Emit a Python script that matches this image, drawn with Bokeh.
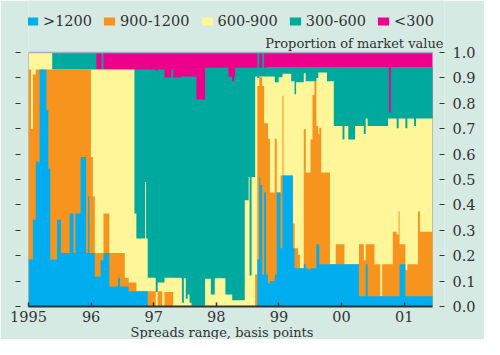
import numpy as np
from bokeh.plotting import figure
from bokeh.models import (ColumnDataSource, Legend, LegendItem, LinearAxis, FixedTicker,
                          Label, Range1d, CustomJSTickFormatter, PrintfTickFormatter, Title)
from bokeh.embed import file_html
from bokeh.resources import INLINE

# ---- data (start of each period, decimal years) ----
period_start = [
    1995.000, 1995.039, 1995.070, 1995.116, 1995.178, 1995.286, 1995.317, 1995.348, 1995.379, 1995.456,
    1995.518, 1995.657, 1995.719, 1995.750, 1995.832, 1995.920, 1995.951, 1995.971, 1995.997, 1996.028,
    1996.059, 1996.085, 1996.152, 1996.167, 1996.198, 1996.291, 1996.430, 1996.461, 1996.538, 1996.600,
    1996.692, 1996.723, 1996.862, 1996.878, 1996.904, 1997.032, 1997.063, 1997.136, 1997.172, 1997.280,
    1997.311, 1997.434, 1997.450, 1997.481, 1997.512, 1997.543, 1997.573, 1997.604, 1997.682, 1997.821,
    1997.913, 1997.975, 1998.145, 1998.192, 1998.254, 1998.284, 1998.300, 1998.454, 1998.516, 1998.532,
    1998.563, 1998.620, 1998.655, 1998.686, 1998.702, 1998.733, 1998.764, 1998.794, 1998.825, 1998.856,
    1998.934, 1998.965, 1998.995, 1999.026, 1999.057, 1999.073, 1999.196, 1999.223, 1999.250, 1999.274,
    1999.305, 1999.335, 1999.397, 1999.428, 1999.459, 1999.505, 1999.536, 1999.567, 1999.598, 1999.629,
    1999.645, 1999.675, 1999.768, 1999.815, 1999.876, 1999.907, 2000.016, 2000.046, 2000.108, 2000.216,
    2000.278, 2000.356, 2000.386, 2000.417, 2000.526, 2000.618, 2000.649, 2000.742, 2000.757, 2000.788,
    2000.819, 2000.881, 2000.912, 2000.927, 2001.020, 2001.051, 2001.159, 2001.190, 2001.221, 2001.252,
]
period_end = 2001.453

share_over_1200 = [
    .185, .185, .342, .570, .933, .774, .543, .185, .185, .342,
    .211, .366, .211, .366, .589, .211, .434, .211, .211, .211,
    .117, .117, .182, .182, .211, .079, .113, .079, .079, .060,
    .060, .060, .060, .060, 0, 0, 0, 0, 0, 0,
    0, 0, 0, 0, 0, 0, 0, 0, 0, 0,
    0, 0, 0, 0, 0, 0, 0, 0, 0, 0,
    0, 0, .185, .509, .478, .126, .449, .126, .092, .100,
    .126, .449, .449, .229, .516, .516, .516, .229, .151, .151,
    .151, .151, .166, .151, .147, .151, .151, .151, .245, .245,
    .166, .166, .166, .166, .166, .166, .166, .166, .166, .166,
    .040, .040, .166, .040, .040, .040, .040, .040, .040, .040,
    .040, .040, .040, .166, .040, .040, .040, .040, .040, .040,
]
share_900_1200 = [
    .748, .515, .571, .363, 0, .159, .390, .748, .748, .591,
    .722, .567, .722, .567, .344, .722, .499, .722, .378, .223,
    .094, .094, .029, .029, .155, .132, .098, .132, .034, .034,
    .034, 0, 0, 0, .060, 0, .060, 0, .057, .057,
    0, 0, 0, 0, 0, 0, 0, 0, 0, 0,
    0, 0, 0, 0, 0, 0, 0, 0, 0, 0,
    0, .126, .683, .394, .425, .742, .272, .595, .568, .349,
    .534, 0, 0, .287, .314, 0, 0, .098, .078, .078,
    .053, 0, .532, .377, .381, .506, .682, .736, .466, .434,
    .538, .362, .362, 0, 0, .079, .079, 0, 0, 0,
    .205, .142, .079, .205, .126, 0, .126, .126, .126, .126,
    .254, .243, .334, .079, .103, .126, .126, .126, .334, .254,
]
share_600_900 = [
    .067, .300, .087, .067, .067, .067, .067, .067, 0, 0,
    0, 0, 0, 0, 0, 0, 0, 0, .344, .499,
    .722, .722, .722, .722, .567, .722, .722, .722, .820, .839,
    .272, .208, .430, .208, .053, .057, .034, .094, .056, .056,
    .113, .111, .015, .111, .031, .047, .015, .003, .003, .109,
    .047, .111, .047, .047, .025, .025, .025, .418, .510, .122,
    .510, .780, .032, .003, .003, .038, .185, .185, .246, .457,
    .223, .434, .454, .387, .086, .400, .371, .560, .607, .654,
    .679, .732, .220, .359, .359, .230, .054, 0, .189, .242,
    .217, .393, .359, .721, .545, .466, .412, .545, .491, .545,
    .466, .497, .495, .466, .545, .671, .545, .574, .574, .574,
    .446, .419, .366, .495, .559, .574, .545, .574, .366, .446,
]
share_300_600 = [
    0, 0, 0, 0, 0, 0, 0, 0, .067, .067,
    .067, .067, .067, .067, .067, .067, .067, .067, .067, .067,
    .067, 0, 0, .067, 0, 0, 0, 0, 0, 0,
    .567, .665, .443, .665, .820, .871, .839, .839, .789, .820,
    .789, .795, .891, .795, .875, .859, .891, .903, .812, .831,
    .893, .829, .893, .859, .862, .881, .915, .522, .430, .818,
    .430, .034, .100, .034, .034, .094, .034, .037, .037, .037,
    .060, .060, .040, .040, .027, .027, .056, .056, .107, .060,
    .060, .060, .025, .056, .056, .056, .056, .056, .043, .022,
    .022, .022, .056, .056, .232, .232, .286, .232, .286, .232,
    .232, .264, .203, .232, .232, .232, .232, .203, .024, .203,
    .203, .241, .203, .203, .241, .203, .232, .203, .203, .203,
]
share_under_300 = [
    0, 0, 0, 0, 0, 0, 0, 0, 0, 0,
    0, 0, 0, 0, 0, 0, 0, 0, 0, 0,
    0, .067, .067, 0, .067, .067, .067, .067, .067, .067,
    .067, .067, .067, .067, .067, .072, .067, .067, .098, .067,
    .098, .094, .094, .094, .094, .094, .094, .094, .185, .060,
    .060, .060, .060, .094, .113, .094, .060, .060, .060, .060,
    .060, .060, 0, .060, .060, 0, .060, .057, .057, .057,
    .057, .057, .057, .057, .057, .057, .057, .057, .057, .057,
    .057, .057, .057, .057, .057, .057, .057, .057, .057, .057,
    .057, .057, .057, .057, .057, .057, .057, .057, .057, .057,
    .057, .057, .057, .057, .057, .057, .057, .057, .236, .057,
    .057, .057, .057, .057, .057, .057, .057, .057, .057, .057,
]

series_names = [">1200", "900-1200", "600-900", "300-600", "<300"]
series_colors = ["#00aeef", "#f7941d", "#fff599", "#00a99d", "#ec008c"]
year_ticks = [1995, 1996, 1997, 1998, 1999, 2000, 2001]
year_labels = ["1995", "96", "97", "98", "99", "00", "01"]
value_ticks = [0.0, 0.1, 0.2, 0.3, 0.4, 0.5, 0.6, 0.7, 0.8, 0.9, 1.0]

BG = "#d5eae3"
TXT = "#333333"
FONT = "DejaVu Serif"

# ---- layout (pixels) ----
W, H = 484, 339
FRAME_L, FRAME_R, FRAME_B = 28, 444, 306
DATA_R = 432          # pixel where the data end
ONE_PX = 52           # pixel row of the value 1.0

starts = np.array(period_start)
ends = np.append(starts[1:], period_end)
vals = np.array([share_over_1200, share_900_1200, share_600_900, share_300_600, share_under_300])
vals = vals / vals.sum(axis=0)
tops = np.cumsum(vals, axis=0)

x_max = 1995.0 + (period_end - 1995.0) * (FRAME_R - FRAME_L) / (DATA_R - FRAME_L)
y_max = FRAME_B / (FRAME_B - ONE_PX)

p = figure(width=W, height=H, output_backend="svg", toolbar_location=None,
           x_range=Range1d(1995.0, x_max), y_range=Range1d(0, y_max),
           min_border_left=FRAME_L, min_border_right=W - FRAME_R, min_border_top=0,
           min_border_bottom=H - FRAME_B,
           background_fill_color=BG, border_fill_color=BG, outline_line_color=None)
p.xaxis.visible = False
p.yaxis.visible = False
p.grid.visible = False

# step areas: each series drawn from 0 to its cumulative top, top-most first
xs = np.column_stack([starts, ends]).ravel()
renderers = {}
for i in range(len(series_names) - 1, -1, -1):
    ys = np.repeat(tops[i], 2)
    src = ColumnDataSource(dict(x=xs, y1=np.zeros_like(ys), y2=ys))
    renderers[i] = p.varea(x="x", y1="y1", y2="y2", source=src,
                           fill_color=series_colors[i])

# top border line of the data area
p.line(x=[1995.0, period_end], y=[1.0, 1.0], line_color="#9db0c8", line_width=1.5)

# bottom axis
xa = LinearAxis(ticker=FixedTicker(ticks=year_ticks),
                major_label_overrides={t: l for t, l in zip(year_ticks, year_labels)},
                bounds=(1995.0, period_end))
xa.axis_line_color = "#333333"
xa.axis_line_width = 2
xa.major_tick_in = 4
xa.major_tick_out = 0
xa.major_tick_line_color = "#333333"
xa.major_tick_line_width = 1.5
xa.minor_tick_line_color = None
xa.major_label_text_font = FONT
xa.major_label_text_font_size = "14.5px"
xa.major_label_text_color = TXT
xa.major_label_standoff = 4
p.add_layout(xa, "below")

# left axis (ticks only)
ya_l = LinearAxis(ticker=FixedTicker(ticks=value_ticks),
                  formatter=CustomJSTickFormatter(code="return ''"))
ya_l.axis_line_color = None
ya_l.major_tick_in = -8
ya_l.major_tick_out = 13
ya_l.major_tick_line_color = "#333333"
ya_l.major_tick_line_width = 1.2
ya_l.minor_tick_line_color = None
ya_l.major_label_standoff = 0
p.add_layout(ya_l, "left")

# right axis
ya_r = LinearAxis(ticker=FixedTicker(ticks=value_ticks), formatter=PrintfTickFormatter(format="%.1f"))
ya_r.axis_line_color = None
ya_r.major_tick_in = 5
ya_r.major_tick_out = 0
ya_r.major_tick_line_color = "#333333"
ya_r.major_tick_line_width = 1.2
ya_r.minor_tick_line_color = None
ya_r.major_label_text_font = FONT
ya_r.major_label_text_font_size = "14.5px"
ya_r.major_label_text_color = TXT
ya_r.major_label_standoff = 8
p.add_layout(ya_r, "right")

# legend
legend = Legend(items=[LegendItem(label=n, renderers=[renderers[i]]) for i, n in enumerate(series_names)],
                location=(-3, 277), orientation="horizontal", padding=0, margin=0, spacing=10,
                glyph_width=14, glyph_height=10, label_standoff=4, label_height=17,
                background_fill_alpha=0, border_line_color=None,
                label_text_font=FONT, label_text_font_size="14.5px", label_text_color=TXT)
p.add_layout(legend, "center")

p.add_layout(Label(x=415, y=263.5, x_units="screen", y_units="screen",
                   text="Proportion of market value", text_align="right",
                   text_baseline="alphabetic", text_font=FONT, text_font_size="13px",
                   text_color=TXT))

p.add_layout(Title(text="Spreads range, basis points", align="left", offset=102, standoff=-3,
                   text_font=FONT, text_font_size="13px", text_font_style="normal",
                   text_color=TXT), "below")

open("out.html", "w").write(file_html(p, INLINE))
